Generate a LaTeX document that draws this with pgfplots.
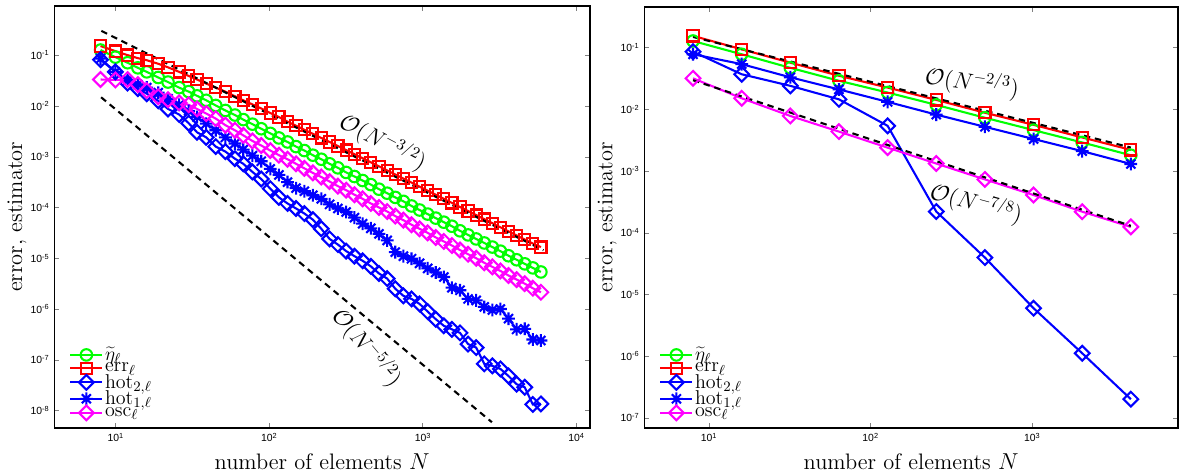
\documentclass[border=0pt]{standalone}
\usepackage{fontspec}
\setsansfont{Liberation Sans}
\usepackage{pgfplots}
\pgfplotsset{compat=1.18}
\usepackage{pgfplotstable}

\definecolor{mgreen}{rgb}{0,1,0}
\definecolor{mred}{rgb}{1,0,0}
\definecolor{mblue}{rgb}{0,0,1}
\definecolor{mmag}{rgb}{1,0,1}

% matlab-like marks: 8-spoke star and a square diamond
\pgfdeclareplotmark{mstar}{%
  \pgfpathmoveto{\pgfqpoint{-\pgfplotmarksize}{0pt}}\pgfpathlineto{\pgfqpoint{\pgfplotmarksize}{0pt}}%
  \pgfpathmoveto{\pgfqpoint{0pt}{-\pgfplotmarksize}}\pgfpathlineto{\pgfqpoint{0pt}{\pgfplotmarksize}}%
  \pgfpathmoveto{\pgfqpoint{-0.707\pgfplotmarksize}{-0.707\pgfplotmarksize}}\pgfpathlineto{\pgfqpoint{0.707\pgfplotmarksize}{0.707\pgfplotmarksize}}%
  \pgfpathmoveto{\pgfqpoint{-0.707\pgfplotmarksize}{0.707\pgfplotmarksize}}\pgfpathlineto{\pgfqpoint{0.707\pgfplotmarksize}{-0.707\pgfplotmarksize}}%
  \pgfusepathqstroke}
\pgfdeclareplotmark{mdiam}{%
  \pgfpathmoveto{\pgfqpoint{0pt}{\pgfplotmarksize}}%
  \pgfpathlineto{\pgfqpoint{\pgfplotmarksize}{0pt}}%
  \pgfpathlineto{\pgfqpoint{0pt}{-\pgfplotmarksize}}%
  \pgfpathlineto{\pgfqpoint{-\pgfplotmarksize}{0pt}}%
  \pgfpathclose\pgfusepathqstroke}

\newcommand{\mtick}{\pgfmathtruncatemacro{\tickexp}{round(\tick)}%
  \textsf{\fontsize{6.5}{7}\selectfont 10\raisebox{0.6ex}{\fontsize{4.6}{5}\selectfont\tickexp}}}

% N err eta hot2 hot1 osc  (adaptive run)
\pgfplotstableread{
N err eta hot2 hot1 osc
8 0.151 0.126 0.0813 0.0851 0.0331
10 0.120 0.0912 0.0468 0.0468 0.0324
12 0.100 0.0708 0.0282 0.0316 0.0331
14 0.0871 0.0562 0.0219 0.0263 0.0263
16 0.0794 0.0468 0.0174 0.0229 0.0200
19 0.0676 0.0363 0.0126 0.0182 0.0151
22 0.0575 0.0295 0.00871 0.0138 0.0132
26 0.0468 0.0229 0.00676 0.0105 0.0115
30 0.0389 0.0191 0.00457 0.00794 0.0105
34 0.0331 0.0158 0.00302 0.00603 0.00871
39 0.0275 0.0129 0.00240 0.00447 0.00708
45 0.0229 0.0102 0.00158 0.00331 0.00562
52 0.0191 0.00813 0.00126 0.00240 0.00417
60 0.0155 0.00661 9.12e-4 0.00182 0.00331
68 0.0129 0.00537 7.24e-4 0.00138 0.00263
78 0.0107 0.00437 5.01e-4 0.00105 0.00204
89 0.00891 0.00355 3.63e-4 8.13e-4 0.00166
102 0.00724 0.00288 2.34e-4 5.75e-4 0.00132
116 0.00603 0.00234 1.58e-4 4.37e-4 0.00107
132 0.00490 0.00195 1.20e-4 3.16e-4 8.91e-4
150 0.00407 0.00158 9.55e-5 2.40e-4 7.24e-4
170 0.00339 0.00132 7.59e-5 2.09e-4 5.89e-4
193 0.00282 0.00107 5.75e-5 1.74e-4 4.79e-4
219 0.00234 8.91e-4 3.80e-5 1.48e-4 3.98e-4
248 0.00195 7.24e-4 2.40e-5 1.15e-4 3.24e-4
281 0.00162 6.03e-4 1.86e-5 9.55e-5 2.63e-4
318 0.00135 4.90e-4 1.38e-5 8.13e-5 2.19e-4
360 0.00112 4.07e-4 1.10e-5 6.31e-5 1.78e-4
407 9.33e-4 3.39e-4 8.91e-6 4.79e-5 1.48e-4
460 7.76e-4 2.82e-4 6.92e-6 3.89e-5 1.20e-4
520 6.46e-4 2.29e-4 5.01e-6 3.02e-5 1.00e-4
588 5.37e-4 1.91e-4 3.98e-6 2.24e-5 8.32e-5
664 4.47e-4 1.58e-4 2.51e-6 1.32e-5 6.76e-5
750 3.72e-4 1.32e-4 1.82e-6 1.10e-5 5.62e-5
847 3.09e-4 1.07e-4 1.58e-6 9.77e-6 4.57e-5
956 2.57e-4 8.91e-5 1.26e-6 7.94e-6 3.80e-5
1079 2.14e-4 7.41e-5 8.91e-7 6.31e-6 3.16e-5
1218 1.78e-4 6.17e-5 6.31e-7 5.25e-6 2.57e-5
1375 1.48e-4 5.13e-5 4.68e-7 4.27e-6 2.14e-5
1552 1.23e-4 4.27e-5 3.98e-7 2.63e-6 1.78e-5
1752 1.02e-4 3.47e-5 3.39e-7 2.34e-6 1.45e-5
1978 8.51e-5 2.88e-5 2.04e-7 1.58e-6 1.20e-5
2233 7.08e-5 2.40e-5 1.74e-7 1.48e-6 1.00e-5
2521 5.89e-5 2.00e-5 8.32e-8 1.10e-6 8.13e-6
2846 4.90e-5 1.66e-5 7.59e-8 9.55e-7 6.76e-6
3213 4.07e-5 1.38e-5 6.61e-8 1.00e-6 5.62e-6
3627 3.39e-5 1.12e-5 4.79e-8 6.46e-7 4.57e-6
4095 2.82e-5 9.33e-6 3.31e-8 3.98e-7 3.80e-6
4623 2.34e-5 7.76e-6 2.88e-8 4.07e-7 3.16e-6
5219 1.95e-5 6.46e-6 1.32e-8 2.51e-7 2.57e-6
5892 1.66e-5 5.37e-6 1.35e-8 2.40e-7 2.14e-6
}\leftdata

% uniform refinement
\pgfplotstableread{
N err eta hot2 hot1 osc
8 0.155 0.128 0.086 0.078 0.0318
16 0.094 0.078 0.037 0.054 0.0151
32 0.057 0.047 0.024 0.033 0.0078
64 0.035 0.029 0.0145 0.021 0.00435
128 0.0225 0.0187 0.0054 0.0132 0.00239
256 0.0142 0.0118 2.2e-4 0.0082 0.00132
512 0.0088 0.0073 3.95e-5 0.0052 7.3e-4
1024 0.0056 0.0046 5.97e-6 0.0033 4.08e-4
2048 0.0035 0.0029 1.11e-6 0.0021 2.19e-4
4096 0.0022 0.0018 2.0e-7 0.0013 1.24e-4
}\rightdata

\pgfplotsset{
  legend image code/.code={\draw[mark repeat=2,mark phase=2,#1]
      plot coordinates {(0pt,0pt) (10pt,0pt) (20pt,0pt)};},
  every axis plot/.append style={line width=1.3pt, mark options={solid}},
}

\begin{document}
\begin{tikzpicture}
\begin{loglogaxis}[scale only axis, width=334.8pt, height=263.6pt,
  log basis x=10, log basis y=10,
  tick align=inside, major tick length=3pt, minor tick length=1.6pt,
  axis line style={line width=1pt},
  xticklabel={\mtick}, yticklabel={\mtick},
  xlabel={number of elements $N$}, ylabel={error, estimator},
  label style={font=\fontsize{14}{14}\selectfont},
  xlabel style={at={(axis description cs:0.5,-0.081)}, anchor=center},
  ylabel style={at={(axis description cs:-0.0696,0.5)}, anchor=center},
  legend cell align=left,
  legend style={draw=none, fill=none, anchor=south west,
    at={(axis description cs:0.0275,0.017)},
    font=\fontsize{12.5}{12.5}\selectfont, row sep=-1.9pt,
    inner sep=0pt, nodes={inner sep=1pt}},
  xmin=4, xmax=12300, ymin=4.6e-9, ymax=0.93,
  xtick={10,100,1000,10000},
  ytick={1e-8,1e-7,1e-6,1e-5,1e-4,1e-3,1e-2,1e-1}]
\addplot[mgreen, mark=o, mark size=3.6pt] table[x=N,y=eta]{\leftdata};
\addplot[mred, mark=square, mark size=3.5pt] table[x=N,y=err]{\leftdata};
\addplot[mblue, mark=mdiam, mark size=4.6pt] table[x=N,y=hot2]{\leftdata};
\addplot[mblue, mark=mstar, mark size=4pt] table[x=N,y=hot1]{\leftdata};
\addplot[mmag, mark=mdiam, mark size=4.6pt] table[x=N,y=osc]{\leftdata};
\addplot[black, line width=1.3pt, dash pattern=on 4pt off 3pt, forget plot] coordinates {(8.1,0.30) (6120,1.44e-5)};
\addplot[black, line width=1.3pt, dash pattern=on 4pt off 3pt, forget plot] coordinates {(8.07,0.0148) (2827,5.9e-9)};
\legend{$\widetilde{\eta}_\ell$, $\mathrm{err}_\ell$, $\mathrm{hot}_{2,\ell}$, $\mathrm{hot}_{1,\ell}$, $\mathrm{osc}_\ell$}
\node[rotate=-28, font=\fontsize{14}{14}\selectfont] at (axis cs:552,1.92e-3) {$\mathcal{O}(N^{-3/2})$};
\node[rotate=-50, font=\fontsize{14}{14}\selectfont] at (axis cs:434,1.74e-7) {$\mathcal{O}(N^{-5/2})$};
\end{loglogaxis}
\begin{loglogaxis}[at={(368.8pt,0pt)}, anchor=south west,
  scale only axis, width=333.4pt, height=263pt,
  log basis x=10, log basis y=10,
  tick align=inside, major tick length=3pt, minor tick length=1.6pt,
  axis line style={line width=1pt},
  xticklabel={\mtick}, yticklabel={\mtick},
  xlabel={number of elements $N$}, ylabel={error, estimator},
  label style={font=\fontsize{14}{14}\selectfont},
  xlabel style={at={(axis description cs:0.5,-0.081)}, anchor=center},
  ylabel style={at={(axis description cs:-0.0699,0.5)}, anchor=center},
  legend cell align=left,
  legend style={draw=none, fill=none, anchor=south west,
    at={(axis description cs:0.0275,0.017)},
    font=\fontsize{12.5}{12.5}\selectfont, row sep=-1.9pt,
    inner sep=0pt, nodes={inner sep=1pt}},
  xmin=4, xmax=8000, ymin=6.9e-8, ymax=0.457,
  xtick={10,100,1000},
  ytick={1e-7,1e-6,1e-5,1e-4,1e-3,1e-2,1e-1}]
\addplot[mgreen, mark=o, mark size=3.6pt] table[x=N,y=eta]{\rightdata};
\addplot[mred, mark=square, mark size=3.5pt] table[x=N,y=err]{\rightdata};
\addplot[mblue, mark=mdiam, mark size=4.6pt] table[x=N,y=hot2]{\rightdata};
\addplot[mblue, mark=mstar, mark size=4pt] table[x=N,y=hot1]{\rightdata};
\addplot[mmag, mark=mdiam, mark size=4.6pt] table[x=N,y=osc]{\rightdata};
\addplot[black, line width=1.3pt, dash pattern=on 4pt off 3pt, forget plot] coordinates {(8,0.149) (4096,0.0024)};
\addplot[black, line width=1.3pt, dash pattern=on 4pt off 3pt, forget plot] coordinates {(8,0.0296) (4096,1.29e-4)};
\legend{$\widetilde{\eta}_\ell$, $\mathrm{err}_\ell$, $\mathrm{hot}_{2,\ell}$, $\mathrm{hot}_{1,\ell}$, $\mathrm{osc}_\ell$}
\node[rotate=-8, font=\fontsize{14}{14}\selectfont] at (axis cs:427,0.0268) {$\mathcal{O}(N^{-2/3})$};
\node[rotate=-15, font=\fontsize{14}{14}\selectfont] at (axis cs:452,2.93e-4) {$\mathcal{O}(N^{-7/8})$};
\end{loglogaxis}
\pgfresetboundingbox
\path[use as bounding box] (-33.94pt,-28.31pt) rectangle (704.81pt,267.31pt);
\end{tikzpicture}
\end{document}
